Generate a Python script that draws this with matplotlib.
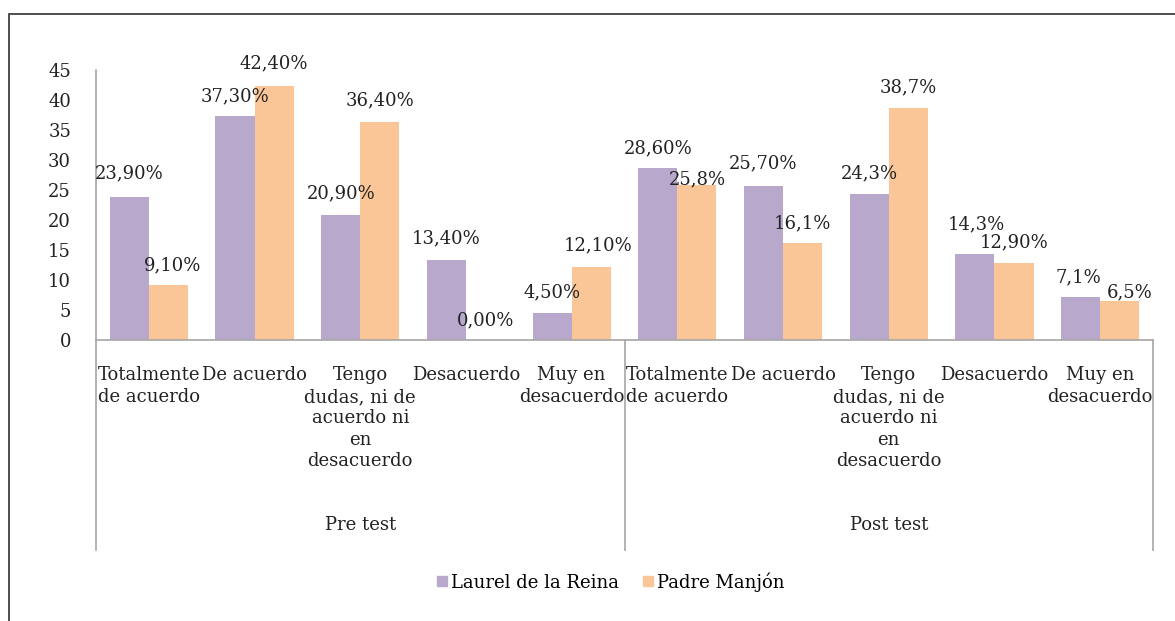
import matplotlib
matplotlib.use("Agg")
import matplotlib.pyplot as plt
from matplotlib.lines import Line2D
from matplotlib.patches import Rectangle
import matplotlib.transforms as mtransforms

plt.rcParams['font.family'] = ['DejaVu Serif']

groups = ["Pre test", "Post test"]
categories = ["Totalmente\nde acuerdo", "De acuerdo", "Tengo\ndudas, ni de\nacuerdo ni\nen\ndesacuerdo",
              "Desacuerdo", "Muy en\ndesacuerdo"]
series_names = ["Laurel de la Reina", "Padre Manjón"]
laurel = [23.9, 37.3, 20.9, 13.4, 4.5, 28.6, 25.7, 24.3, 14.3, 7.1]
manjon = [9.1, 42.4, 36.4, 0.0, 12.1, 25.8, 16.1, 38.7, 12.9, 6.5]
laurel_labels = ["23,90%", "37,30%", "20,90%", "13,40%", "4,50%",
                 "28,60%", "25,70%", "24,3%", "14,3%", "7,1%"]
manjon_labels = ["9,10%", "42,40%", "36,40%", "0,00%", "12,10%",
                 "25,8%", "16,1%", "38,7%", "12,90%", "6,5%"]
yticks = list(range(0, 50, 5))

# label nudges (px): (dx, dy above bar top to label centre)
laurel_nudge = [(0, 23), (0, 20), (0, 21), (0, 21), (0, 21),
                (0, 20), (0, 22), (0, 21), (1, 30), (-2, 20)]
manjon_nudge = [(4, 20), (0, 22), (0, 21), (0, 20), (7, 22),
                (0, 6), (0, 20), (0, 20), (0, 20), (10, 9)]

colors = ["#B8A9CC", "#FAC698"]
W, H = 1175, 621
fig = plt.figure(figsize=(W / 100, H / 100), dpi=100)

# outer frame
fig.patches.append(Rectangle((9 / W, -0.05), 1.1, (H - 14) / H + 0.05, transform=fig.transFigure,
                             fill=False, edgecolor="#404040", linewidth=1.3))

ax = fig.add_axes([96 / W, (H - 340) / H, (1153 - 96) / W, 270 / H])
n = len(laurel)
xs = list(range(n))
bw = 0.37
ax.bar([x - bw / 2 for x in xs], laurel, width=bw, color=colors[0], edgecolor='none')
ax.bar([x + bw / 2 for x in xs], manjon, width=bw, color=colors[1], edgecolor='none')

ax.set_xlim(-0.5, n - 0.5)
ax.set_ylim(0, 45)
ax.set_yticks(yticks)
ax.set_yticklabels([str(t) for t in yticks], fontsize=13, color="#222222")
ax.tick_params(axis='y', length=0, pad=18)
ax.set_xticks([])
for s in ['top', 'right']:
    ax.spines[s].set_visible(False)
for s in ['left', 'bottom']:
    ax.spines[s].set_color("#A6A6A6")
    ax.spines[s].set_linewidth(1.2)

pt = 0.72
for i in xs:
    dx, dy = laurel_nudge[i]
    ax.annotate(laurel_labels[i], (i - bw / 2, laurel[i]), xytext=(dx * pt, dy * pt),
                textcoords='offset points', ha='center', va='center', fontsize=13, color="#222222")
    dx, dy = manjon_nudge[i]
    ax.annotate(manjon_labels[i], (i + bw / 2, manjon[i]), xytext=(dx * pt, dy * pt),
                textcoords='offset points', ha='center', va='center', fontsize=13, color="#222222")

# category labels
ncat = len(categories)
for gi, g in enumerate(groups):
    for ci, c in enumerate(categories):
        ax.annotate(c, (gi * ncat + ci, 0), xycoords=('data', 'axes fraction'),
                    xytext=(0, -19), textcoords='offset points', ha='center', va='top',
                    fontsize=13, color="#222222", linespacing=1.25)
    ax.annotate(g, (gi * ncat + (ncat - 1) / 2, 0), xycoords=('data', 'axes fraction'),
                xytext=(0, -185 * pt), textcoords='offset points', ha='center', va='center',
                fontsize=13, color="#222222")

# group separators
trans = mtransforms.blended_transform_factory(ax.transData, ax.transAxes)
for xsep in [-0.5, ncat - 0.5, 2 * ncat - 0.5]:
    ax.add_line(Line2D([xsep, xsep], [0, -210 / 270], transform=trans, color="#A6A6A6",
                       linewidth=1.2, clip_on=False))

handles = [Line2D([], [], marker='s', linestyle='none', markersize=7, color=c) for c in colors]
fig.legend(handles, series_names, loc='center', bbox_to_anchor=(610 / W, 1 - 582 / H), ncol=2,
           frameon=False, fontsize=13, handletextpad=0.1, columnspacing=1.2, handlelength=0.8)

fig.savefig("out.png", dpi=100)
